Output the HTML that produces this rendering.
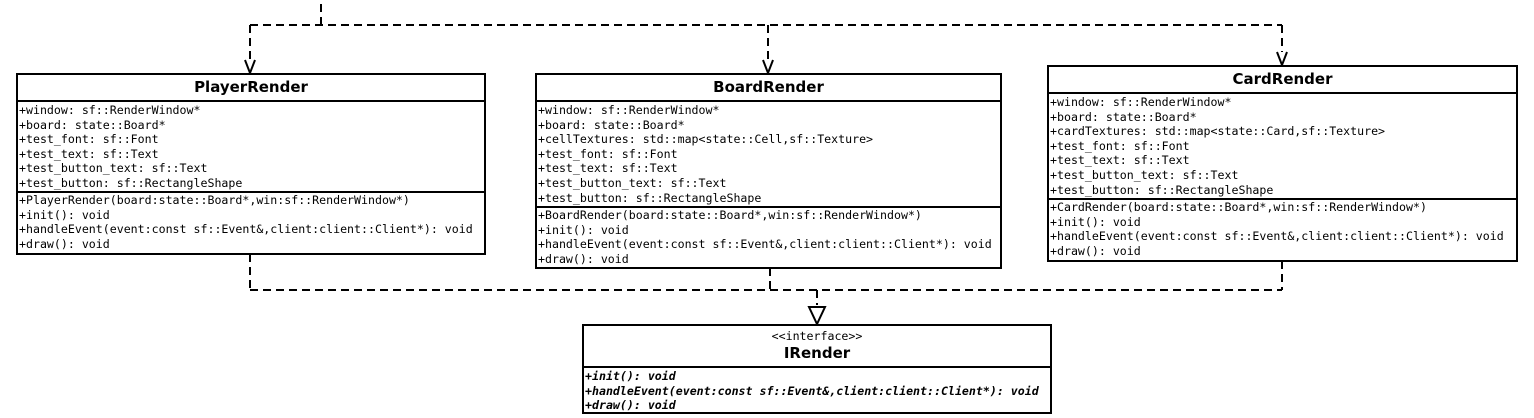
<!DOCTYPE html>
<html><head><meta charset="utf-8"><style>
body{margin:0;width:1534px;height:418px;background:#fff;position:relative;overflow:hidden}
.box{position:absolute;border:2px solid #000;box-sizing:border-box;background:#fff}
.hd{border-bottom:2px solid #000;text-align:center;font:bold 15px "DejaVu Sans","Liberation Sans",sans-serif;box-sizing:border-box}
.sec{font:11.6px/14.6px "DejaVu Sans Mono","Liberation Mono",monospace;padding-left:1px;white-space:pre;box-sizing:border-box}
.sep{border-bottom:2px solid #000}
.it{font-style:italic;font-weight:bold}
svg{position:absolute;left:0;top:0}
</style></head><body>
<svg width="1534" height="418">
<g stroke="#000" stroke-width="2" fill="none" stroke-dasharray="8,5">
<path d="M321 4 V25"/>
<path d="M250 25 H1282"/>
<path d="M250 25 V60"/><path d="M768 25 V60"/><path d="M1282 25 V52"/>
<path d="M250 254 V290"/><path d="M770 268 V290"/><path d="M1282 261 V290"/>
<path d="M250 290 H1282"/>
<path d="M817 290 V305"/>
</g>
<g stroke="#000" stroke-width="2" fill="none">
<path d="M245 60 L250 73 L255 60"/>
<path d="M763 60 L768 73 L773 60"/>
<path d="M1277 52 L1282 65 L1287 52"/>
<path d="M809 307 L825 307 L817 324 Z"/>
</g>
</svg>

<div class="box" style="left:16px;top:73px;width:470px;height:182px">
<div class="hd" style="height:27px;line-height:25px">PlayerRender</div>
<div class="sec sep" style="height:91px;padding-top:1px">+window: sf::RenderWindow*
+board: state::Board*
+test_font: sf::Font
+test_text: sf::Text
+test_button_text: sf::Text
+test_button: sf::RectangleShape</div>
<div class="sec">+PlayerRender(board:state::Board*,win:sf::RenderWindow*)
+init(): void
+handleEvent(event:const sf::Event&amp;,client:client::Client*): void
+draw(): void</div>
</div>

<div class="box" style="left:535px;top:73px;width:467px;height:196px">
<div class="hd" style="height:27px;line-height:25px">BoardRender</div>
<div class="sec sep" style="height:106px;padding-top:1px">+window: sf::RenderWindow*
+board: state::Board*
+cellTextures: std::map&lt;state::Cell,sf::Texture&gt;
+test_font: sf::Font
+test_text: sf::Text
+test_button_text: sf::Text
+test_button: sf::RectangleShape</div>
<div class="sec">+BoardRender(board:state::Board*,win:sf::RenderWindow*)
+init(): void
+handleEvent(event:const sf::Event&amp;,client:client::Client*): void
+draw(): void</div>
</div>

<div class="box" style="left:1047px;top:65px;width:471px;height:197px">
<div class="hd" style="height:27px;line-height:25px">CardRender</div>
<div class="sec sep" style="height:106px;padding-top:1px">+window: sf::RenderWindow*
+board: state::Board*
+cardTextures: std::map&lt;state::Card,sf::Texture&gt;
+test_font: sf::Font
+test_text: sf::Text
+test_button_text: sf::Text
+test_button: sf::RectangleShape</div>
<div class="sec">+CardRender(board:state::Board*,win:sf::RenderWindow*)
+init(): void
+handleEvent(event:const sf::Event&amp;,client:client::Client*): void
+draw(): void</div>
</div>

<div class="box" style="left:582px;top:324px;width:470px;height:90px">
<div class="hd" style="height:42px;padding-top:3px">
<div style="font:normal 11.6px/14px 'DejaVu Sans Mono','Liberation Mono',monospace">&lt;&lt;interface&gt;&gt;</div>
<div style="line-height:20px">IRender</div></div>
<div class="sec it" style="padding-top:1px">+init(): void
+handleEvent(event:const sf::Event&amp;,client:client::Client*): void
+draw(): void</div>
</div>
</body></html>
